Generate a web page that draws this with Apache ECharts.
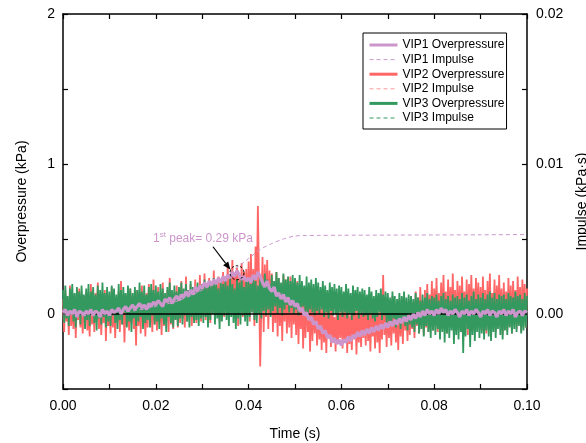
<!DOCTYPE html>
<html>
<head>
<meta charset="utf-8">
<script src="https://cdn.jsdelivr.net/npm/echarts@6/dist/echarts.min.js"></script>
<style>html,body{margin:0;padding:0;background:#fff}#c{width:586px;height:443px}</style>
</head>
<body>
<div id="c"></div>
<script>
// sampling steps (s)
const dt1 = 0.0005;   // VIP1 record
const dt = 0.00025;   // VIP2 / VIP3 records
const xTicks = [0, 0.02, 0.04, 0.06, 0.08, 0.10];

const vip1Over = [
 0.01,0.03,-0.01,0.02,0.00,0.03,-0.02,0.02,0.01,-0.01,
 0.02,0.00,0.03,-0.01,0.02,0.01,-0.02,0.03,0.00,0.02,
 -0.01,0.03,0.01,0.02,0.04,0.00,0.03,0.05,0.02,0.04,
 0.06,0.03,0.05,0.07,0.04,0.06,0.03,0.07,0.05,0.08,
 0.06,0.09,0.07,0.05,0.10,0.08,0.11,0.07,0.10,0.12,
 0.09,0.13,0.11,0.15,0.12,0.16,0.13,0.18,0.15,0.19,
 0.17,0.21,0.18,0.22,0.19,0.23,0.20,0.24,0.21,0.25,
 0.22,0.26,0.24,0.28,0.25,0.29,0.26,0.23,0.25,0.22,
 0.24,0.21,0.26,0.23,0.28,0.25,0.21,0.18,0.22,0.17,
 0.15,0.18,0.12,0.14,0.10,0.13,0.08,0.11,0.06,0.09,
 0.05,0.07,0.02,0.04,-0.01,0.01,-0.04,-0.02,-0.07,-0.05,
 -0.10,-0.08,-0.13,-0.11,-0.16,-0.14,-0.19,-0.16,-0.20,-0.17,
 -0.21,-0.17,-0.19,-0.15,-0.18,-0.14,-0.16,-0.12,-0.15,-0.11,
 -0.14,-0.10,-0.13,-0.09,-0.12,-0.08,-0.11,-0.07,-0.10,-0.06,
 -0.09,-0.05,-0.08,-0.04,-0.07,-0.03,-0.06,-0.02,-0.05,-0.01,
 -0.04,0.00,-0.03,0.01,-0.02,0.02,-0.01,0.03,0.00,0.02,
 -0.01,0.03,0.00,0.04,0.01,0.03,-0.01,0.02,0.00,0.03,
 0.01,-0.02,0.02,0.00,0.03,-0.01,0.02,0.00,0.03,0.01,
 -0.02,0.02,0.00,0.03,-0.01,0.02,0.01,-0.02,0.02,0.00,
 0.03,-0.01,0.02,0.00,0.03,-0.02,0.01,0.02,-0.01,0.02,
 0.01
];

const vip2Over = [
 0.10,-0.12,0.16,-0.05,0.08,-0.14,0.19,-0.08,0.06,-0.10,0.13,-0.16,0.11,-0.04,0.17,-0.09,0.07,-0.13,0.12,-0.06,
 0.15,-0.11,0.05,-0.15,0.20,-0.07,0.09,-0.12,0.14,-0.05,0.21,-0.10,0.08,-0.14,0.12,-0.06,0.16,-0.18,0.10,-0.08,
 0.06,-0.13,0.18,-0.09,0.11,-0.16,0.08,-0.05,0.15,-0.12,0.22,-0.07,0.10,-0.19,0.13,-0.08,0.09,-0.11,0.17,-0.06,
 0.12,-0.10,0.07,-0.21,0.16,-0.08,0.11,-0.13,0.19,-0.06,0.09,-0.15,0.14,-0.09,0.20,-0.04,0.10,-0.12,0.23,-0.07,
 0.13,-0.11,0.18,-0.06,0.09,-0.14,0.21,-0.08,0.12,-0.05,0.16,-0.12,0.24,-0.07,0.11,-0.10,0.15,-0.04,0.19,-0.09,
 0.14,-0.06,0.22,-0.03,0.12,-0.09,0.25,-0.05,0.16,-0.02,0.20,-0.08,0.13,-0.04,0.23,-0.06,0.18,-0.01,0.26,-0.05,
 0.20,-0.02,0.27,-0.04,0.18,0.02,0.24,-0.06,0.21,0.01,0.29,-0.03,0.19,0.03,0.25,-0.05,0.22,0.00,0.28,-0.02,
 0.24,0.02,0.33,-0.01,0.26,0.04,0.36,0.00,0.27,0.06,0.31,-0.08,0.25,0.03,0.34,-0.02,0.28,0.05,0.30,0.01,
 0.35,-0.05,0.40,0.02,0.30,-0.08,0.45,0.10,0.72,0.20,-0.35,0.05,0.38,-0.12,0.33,-0.02,0.36,-0.10,0.29,0.00,
 0.27,-0.12,0.22,-0.06,0.28,-0.15,0.24,-0.08,0.20,-0.18,0.26,-0.05,0.23,-0.13,0.19,-0.09,0.25,-0.16,0.21,-0.07,
 0.18,-0.14,0.22,-0.20,0.15,-0.10,0.19,-0.23,0.13,-0.16,0.17,-0.12,0.11,-0.25,0.14,-0.18,0.10,-0.13,0.12,-0.21,
 0.08,-0.17,0.04,-0.24,0.10,-0.19,0.02,-0.26,0.06,-0.15,0.03,-0.22,0.09,-0.18,-0.02,-0.25,0.05,-0.20,0.01,-0.16,
 0.07,-0.23,0.02,-0.18,0.10,-0.26,0.04,-0.20,-0.01,-0.24,0.08,-0.17,0.03,-0.27,0.06,-0.19,0.00,-0.22,0.09,-0.16,
 0.05,-0.21,0.12,-0.18,0.02,-0.25,0.07,-0.15,0.04,-0.23,0.10,-0.19,0.01,-0.26,0.08,-0.17,0.26,-0.14,0.05,-0.22,
 0.09,-0.16,0.03,-0.21,0.12,-0.13,0.06,-0.19,0.02,-0.24,0.10,-0.15,0.07,-0.20,0.13,-0.11,0.04,-0.18,0.09,-0.14,
 0.12,-0.10,0.08,-0.16,0.15,-0.08,0.11,-0.13,0.18,-0.06,0.09,-0.14,0.16,-0.09,0.20,-0.12,0.13,-0.07,0.22,-0.11,
 0.17,-0.08,0.24,-0.12,0.14,-0.05,0.21,-0.10,0.26,-0.07,0.15,-0.13,0.23,-0.04,0.18,-0.09,0.27,-0.06,0.16,-0.11,
 0.22,-0.07,0.19,-0.12,0.25,-0.04,0.15,-0.10,0.23,-0.14,0.20,-0.06,0.26,-0.09,0.17,-0.12,0.24,-0.05,0.21,-0.08,
 0.18,-0.11,0.25,-0.06,0.16,-0.13,0.22,-0.08,0.27,-0.10,0.14,-0.05,0.23,-0.12,0.19,-0.07,0.26,-0.09,0.17,-0.14,
 0.21,-0.06,0.15,-0.11,0.24,-0.08,0.19,-0.13,0.22,-0.05,0.16,-0.10,0.25,-0.07,0.18,-0.12,0.23,-0.04,0.20,-0.09,
 0.17
];

const vip3Over = [
 0.16,-0.06,0.19,-0.03,0.12,-0.08,0.17,0.02,0.20,-0.05,0.14,-0.09,0.18,-0.02,0.15,-0.07,0.19,0.01,0.13,-0.10,
 0.17,-0.04,0.20,-0.08,0.15,0.00,0.18,-0.06,0.13,-0.11,0.19,-0.03,0.16,-0.07,0.21,-0.02,0.14,-0.09,0.18,-0.05,
 0.15,-0.08,0.19,-0.01,0.17,-0.06,0.13,-0.10,0.20,-0.04,0.16,-0.07,0.18,0.01,0.14,-0.09,0.19,-0.05,0.17,-0.12,
 0.14,-0.03,0.18,-0.08,0.16,-0.05,0.21,-0.02,0.15,-0.10,0.19,-0.06,0.13,-0.04,0.18,-0.09,0.20,-0.01,0.16,-0.07,
 0.19,-0.05,0.15,-0.10,0.20,-0.03,0.17,-0.07,0.14,-0.12,0.18,-0.02,0.21,-0.06,0.16,-0.09,0.19,-0.04,0.15,-0.08,
 0.18,-0.03,0.21,-0.07,0.17,-0.01,0.20,-0.05,0.16,-0.09,0.22,-0.02,0.18,-0.06,0.15,-0.04,0.21,-0.08,0.19,-0.03,
 0.20,-0.06,0.23,-0.02,0.18,-0.09,0.22,-0.04,0.19,0.00,0.24,-0.07,0.21,-0.03,0.17,-0.10,0.23,-0.05,0.20,-0.01,
 0.22,-0.04,0.19,-0.08,0.24,-0.02,0.20,-0.06,0.17,-0.10,0.23,-0.03,0.21,-0.07,0.25,-0.01,0.18,-0.05,0.22,-0.08,
 0.24,-0.02,0.20,0.01,0.26,-0.04,0.22,-0.06,0.19,0.00,0.25,-0.03,0.21,0.02,0.27,-0.01,0.23,0.03,0.20,-0.02,
 0.26,0.02,0.22,0.05,0.28,0.00,0.24,0.04,0.21,-0.01,0.27,0.03,0.23,0.06,0.25,0.01,0.22,0.04,0.26,0.00,
 0.24,0.03,0.21,-0.01,0.26,0.02,0.22,0.05,0.19,0.00,0.25,-0.02,0.21,0.03,0.23,0.01,0.20,-0.01,0.24,0.02,
 0.21,0.00,0.18,0.03,0.22,-0.02,0.19,0.01,0.16,-0.03,0.21,0.02,0.18,-0.01,0.20,0.00,0.17,-0.04,0.19,0.01,
 0.18,-0.02,0.15,0.01,0.20,-0.03,0.17,0.00,0.14,-0.04,0.19,-0.01,0.16,0.02,0.18,-0.03,0.15,0.00,0.17,-0.02,
 0.16,-0.01,0.13,-0.04,0.18,0.00,0.15,-0.03,0.12,-0.05,0.16,-0.02,0.14,0.01,0.17,-0.04,0.13,-0.01,0.15,-0.06,
 0.14,-0.05,0.11,-0.08,0.15,-0.03,0.12,-0.09,0.10,-0.06,0.14,-0.10,0.12,-0.04,0.15,-0.08,0.11,-0.11,0.13,-0.07,
 0.12,-0.09,0.10,-0.12,0.14,-0.07,0.11,-0.13,0.09,-0.10,0.13,-0.15,0.11,-0.08,0.14,-0.12,0.10,-0.16,0.12,-0.11,
 0.11,-0.14,0.13,-0.10,0.09,-0.17,0.12,-0.12,0.14,-0.19,0.10,-0.13,0.12,-0.16,0.09,-0.11,0.13,-0.20,0.11,-0.14,
 0.12,-0.17,0.10,-0.12,0.14,-0.26,0.11,-0.15,0.13,-0.10,0.09,-0.22,0.12,-0.14,0.15,-0.18,0.10,-0.12,0.13,-0.16,
 0.11,-0.13,0.14,-0.17,0.10,-0.11,0.13,-0.15,0.15,-0.18,0.11,-0.12,0.14,-0.16,0.10,-0.10,0.13,-0.14,0.12,-0.17,
 0.13,-0.11,0.10,-0.14,0.14,-0.09,0.12,-0.13,0.11,-0.10,0.15,-0.12,0.12,-0.08,0.13,-0.13,0.10,-0.11,0.14,-0.09,
 0.12
];

// impulse curves (kPa·s)
const impTime = [0,0.005,0.01,0.015,0.02,0.025,0.03,0.035,0.0375,0.04,0.0425,0.045,0.0475,0.05,0.0525,0.055,0.06,0.07,0.08,0.09,0.1];
const vip1Imp = [0,0.00002,0.00008,0.0002,0.0005,0.0009,0.0016,0.0025,0.0031,0.0037,0.0043,0.0047,0.0050,0.0052,0.00523,0.00524,0.00525,0.00526,0.00527,0.00528,0.0053];
const vip2Imp = [0,0.00001,0.00002,0.00003,0.00004,0.00006,0.00008,0.0001,0.00012,0.00014,0.00018,0.0002,0.00021,0.00022,0.00022,0.00021,0.00018,0.00012,0.0001,0.00011,0.00013];
const vip3Imp = [0,0.00004,0.00008,0.00012,0.00016,0.0002,0.00025,0.0003,0.00033,0.00036,0.0004,0.00044,0.00048,0.00052,0.00055,0.00058,0.00062,0.00066,0.00066,0.00067,0.00068];

const peak = {t: 0.0375, p: 0.275, label: '0.29 kPa'};

const C1 = '#cc96cc', C1d = '#cc99cc';
const C2 = '#ff6666', C2d = '#ff9a9a';
const C3 = '#33995f', C3d = '#33995f';

const times1 = vip1Over.map((_, i) => +(i * dt1).toFixed(5));
const times = vip2Over.map((_, i) => +(i * dt).toFixed(5));
const zip = (xs, ys) => ys.map((y, i) => [xs[i], y]);

const chart = echarts.init(document.getElementById('c'), null, {renderer: 'canvas'});
const font = 'Liberation Sans, Arial, sans-serif';
const axisCommon = {
  axisLine: {show: true, onZero: false, lineStyle: {color: '#000', width: 1.5}},
  axisTick: {show: true, inside: true, length: 5, lineStyle: {color: '#000', width: 1.2}},
  splitLine: {show: false},
  axisLabel: {color: '#000', fontSize: 14, fontFamily: font},
  nameTextStyle: {color: '#000', fontSize: 14, fontFamily: font}
};

function lineSeries(name, data, color, width, z, yIdx, dashed) {
  return {
    name, type: 'line', data, yAxisIndex: yIdx, xAxisIndex: 0,
    symbol: 'none', showSymbol: false, smooth: dashed ? 0.3 : false,
    lineStyle: {color, width, type: dashed ? [4, 3] : 'solid'},
    itemStyle: {color}, z, animation: false, silent: true
  };
}

const s1 = lineSeries('VIP1 Overpressure', zip(times1, vip1Over), C1, 3.2, 5, 0, false);
const s1i = lineSeries('VIP1 Impulse', zip(impTime, vip1Imp), C1d, 1, 6, 1, true);
const s2 = lineSeries('VIP2 Overpressure', zip(times, vip2Over), C2, 1.8, 3, 0, false);
const s2i = lineSeries('VIP2 Impulse', zip(impTime, vip2Imp), C2d, 1, 1, 1, true);
const s3 = lineSeries('VIP3 Overpressure', zip(times, vip3Over), C3, 1.8, 4, 0, false);
const s3i = lineSeries('VIP3 Impulse', zip(impTime, vip3Imp), C3d, 1, 1, 1, true);
s1i.markLine = {
  silent: true, symbol: 'none', animation: false,
  label: {show: false},
  lineStyle: {color: '#000', width: 1.5, type: 'solid'},
  data: [{yAxis: 0}]
};

const legendNames = ['VIP1 Overpressure','VIP1 Impulse','VIP2 Overpressure','VIP2 Impulse','VIP3 Overpressure','VIP3 Impulse'];
const legendColors = [C1, C1d, C2, C2d, C3, C3d];

const option = {
  backgroundColor: '#fff',
  animation: false,
  grid: {left: 63, right: 59, top: 14, bottom: 54, containLabel: false, outerBoundsMode: 'none'},
  legend: {
    orient: 'vertical', left: 363, top: 33,
    padding: [6, 2, 5, 5], itemGap: 2.6, itemWidth: 28, itemHeight: 11,
    borderColor: '#000', borderWidth: 1, borderRadius: 0, backgroundColor: '#fff',
    textStyle: {color: '#000', fontSize: 12, fontFamily: font},
    selectedMode: false,
    data: legendNames.map((n, i) => ({
      name: n,
      itemStyle: {opacity: 0},
      lineStyle: n.includes('Over')
        ? {width: 3, color: legendColors[i], type: 'solid'}
        : {width: 1, color: legendColors[i], type: [4, 3]}
    }))
  },
  xAxis: [
    Object.assign({}, axisCommon, {
      type: 'value', min: 0, max: 0.1, interval: 0.01, position: 'bottom',
      name: 'Time (s)', nameLocation: 'middle', nameGap: 38,
      axisLabel: Object.assign({}, axisCommon.axisLabel, {
        margin: 10,
        formatter: v => {
          const k = Math.round(v * 100);
          return xTicks.some(x => Math.round(x * 100) === k) ? v.toFixed(2) : '';
        }
      })
    }),
    Object.assign({}, axisCommon, {
      type: 'value', min: 0, max: 0.1, interval: 0.01, position: 'top',
      axisLabel: {show: false}
    })
  ],
  yAxis: [
    Object.assign({}, axisCommon, {
      type: 'value', min: -0.5, max: 2, interval: 0.5, position: 'left',
      name: 'Overpressure (kPa)', nameLocation: 'middle', nameGap: 34, nameRotate: 90,
      axisLabel: Object.assign({}, axisCommon.axisLabel, {
        margin: 8,
        formatter: v => Number.isInteger(Math.round(v * 1000) / 1000) ? String(Math.round(v)) : ''
      })
    }),
    Object.assign({}, axisCommon, {
      type: 'value', min: -0.005, max: 0.02, interval: 0.005, position: 'right',
      name: 'Impulse (kPa·s)', nameLocation: 'middle', nameGap: 48, nameRotate: 90,
      axisLabel: Object.assign({}, axisCommon.axisLabel, {
        margin: 9,
        formatter: v => {
          const k = Math.round(v * 1000);
          return (k % 10 === 0) ? (k / 1000).toFixed(2) : '';
        }
      })
    })
  ],
  series: [s1, s1i, s2, s2i, s3, s3i]
};
chart.setOption(option);

// annotation for the first peak
const c = chart.convertToPixel({xAxisIndex: 0, yAxisIndex: 0}, [peak.t, peak.p]);
const tip = [c[0] - 6.5, c[1] - 3];
const tail = [c[0] - 24, c[1] - 26];
const ang = Math.atan2(tip[1] - tail[1], tip[0] - tail[0]);
const hl = 8, hw = 3.2;
const base = [tip[0] - hl * Math.cos(ang), tip[1] - hl * Math.sin(ang)];
const head = [
  tip,
  [base[0] + hw * Math.sin(ang), base[1] - hw * Math.cos(ang)],
  [base[0] - hw * Math.sin(ang), base[1] + hw * Math.cos(ang)]
];
chart.setOption({
  graphic: [
    {type: 'circle', z: 100, silent: true,
     shape: {cx: c[0], cy: c[1], r: 7},
     style: {fill: 'none', stroke: '#000', lineWidth: 1, lineDash: [2.5, 2]}},
    {type: 'line', z: 100, silent: true,
     shape: {x1: tail[0], y1: tail[1], x2: base[0], y2: base[1]},
     style: {stroke: '#000', lineWidth: 1.2}},
    {type: 'polygon', z: 100, silent: true,
     shape: {points: head}, style: {fill: '#000'}},
    {type: 'text', z: 100, silent: true,
     x: c[0] - 34, y: c[1] - 34,
     style: {
       text: '{a|1}{b|st}{a| peak= ' + peak.label + '}',
       align: 'center', verticalAlign: 'middle',
       rich: {
         a: {fontSize: 12, fontFamily: font, fill: C1, lineHeight: 14},
         b: {fontSize: 8, fontFamily: font, fill: C1, lineHeight: 14, padding: [0, 0, 7, 0]}
       }
     }}
  ]
});
</script>
</body>
</html>
